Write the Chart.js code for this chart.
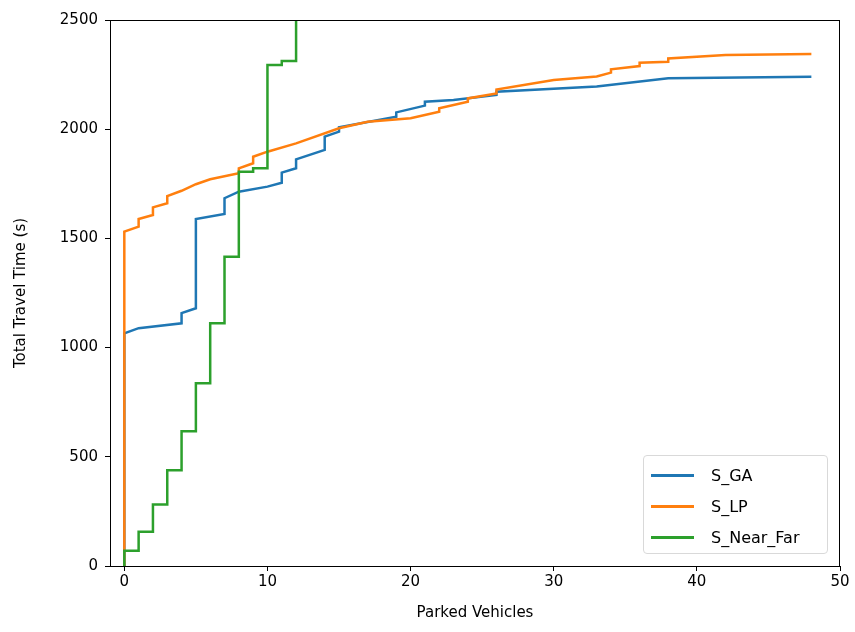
<!DOCTYPE html>
<html>
<head>
<meta charset="utf-8">
<script src="https://cdn.jsdelivr.net/npm/chart.js@4"></script>
<style>
  html, body { margin: 0; padding: 0; background: #fff; }
  #wrap { position: relative; width: 855px; height: 632px; }
  #legend {
    position: absolute; left: 643px; top: 455px; width: 185px; height: 99px;
    border: 1px solid #d9d9d9; border-radius: 4px; background: rgba(255,255,255,0.8);
    font-family: 'DejaVu Sans', sans-serif; font-size: 16px; color: #000;
    box-sizing: border-box; padding-top: 4px;
  }
  #legend .row { height: 31px; display: flex; align-items: center; }
  #legend .swatch { width: 43px; height: 3px; margin-left: 7px; margin-right: 17px; }
</style>
</head>
<body>
<div id="wrap">
  <canvas id="chart" width="855" height="632"></canvas>
  <div id="legend"></div>
</div>
<script>
// ejes
const xTicks = [0, 10, 20, 30, 40, 50];
const yTicks = [0, 500, 1000, 1500, 2000, 2500];

// S_GA
const gaX = [0, 0, 1, 4, 4, 5, 5, 7, 7, 8, 10, 11, 11, 12, 12, 14, 14, 15, 15, 19, 19, 21, 21, 23, 26, 26, 33, 38, 48];
const gaY = [0, 1065, 1089, 1111, 1158, 1180, 1589, 1612, 1684, 1714, 1737, 1755, 1801, 1821, 1862, 1905, 1966, 1989, 2009, 2057, 2077, 2108, 2126, 2134, 2157, 2172, 2195, 2233, 2240];

// S_LP
const lpX = [0, 0, 1, 1, 2, 2, 3, 3, 4, 5, 6, 8, 8, 9, 9, 10, 12, 15, 17, 20, 22, 22, 24, 24, 26, 26, 30, 33, 34, 34, 36, 36, 38, 38, 42, 48];
const lpY = [0, 1531, 1554, 1589, 1607, 1642, 1661, 1694, 1718, 1748, 1771, 1798, 1821, 1844, 1874, 1897, 1935, 2004, 2034, 2050, 2080, 2096, 2126, 2141, 2164, 2182, 2225, 2241, 2259, 2274, 2289, 2304, 2309, 2324, 2340, 2344];

// S_Near_Far
const nfX = [0, 0, 1, 1, 2, 2, 3, 3, 4, 4, 5, 5, 6, 6, 7, 7, 8, 8, 9, 9, 10, 10, 11, 11, 12, 12];
const nfY = [0, 70, 70, 157, 157, 282, 282, 438, 438, 617, 617, 837, 837, 1111, 1111, 1416, 1416, 1805, 1805, 1821, 1821, 2294, 2294, 2312, 2312, 3000];

const series = [
  { label: 'S_GA', xs: gaX, ys: gaY, color: '#1f77b4' },
  { label: 'S_LP', xs: lpX, ys: lpY, color: '#ff7f0e' },
  { label: 'S_Near_Far', xs: nfX, ys: nfY, color: '#2ca02c' }
];

const font = { family: "'DejaVu Sans', sans-serif", size: 15 };

// marco completo estilo matplotlib
const frame = {
  id: 'frame',
  afterDraw(chart) {
    const a = chart.chartArea, c = chart.ctx;
    c.save();
    c.strokeStyle = '#000';
    c.lineWidth = 1;
    c.strokeRect(a.left + 0.5, a.top + 0.5, a.right - a.left - 1, a.bottom - a.top);
    c.restore();
  }
};

new Chart(document.getElementById('chart').getContext('2d'), {
  type: 'scatter',
  data: {
    // la ultima serie queda encima, como en matplotlib
    datasets: series.map((s, i) => ({
      label: s.label,
      data: s.xs.map((x, j) => ({ x: x, y: s.ys[j] })),
      showLine: true,
      order: series.length - i,
      borderColor: s.color,
      backgroundColor: s.color,
      borderWidth: 2.5,
      pointRadius: 0,
      tension: 0
    }))
  },
  options: {
    responsive: false,
    animation: false,
    layout: { padding: { left: 8, right: 15, top: 20, bottom: 6 } },
    plugins: { legend: { display: false }, tooltip: { enabled: false } },
    scales: {
      x: {
        type: 'linear', min: -1, max: 50,
        afterBuildTicks: ax => { ax.ticks = xTicks.map(v => ({ value: v })); },
        afterFit: ax => { ax.height = 60; },
        grid: { drawOnChartArea: false, drawTicks: true, tickLength: 5, color: '#000' },
        border: { display: true, color: '#000' },
        ticks: { color: '#000', font: font, padding: 2, maxRotation: 0, callback: v => String(v) },
        title: { display: true, text: 'Parked Vehicles', color: '#000', font: font, padding: { top: 2 } }
      },
      y: {
        type: 'linear', min: 0, max: 2500,
        afterBuildTicks: ax => { ax.ticks = yTicks.map(v => ({ value: v })); },
        afterFit: ax => { ax.width = 102; },
        grid: { drawOnChartArea: false, drawTicks: true, tickLength: 5, color: '#000' },
        border: { display: true, color: '#000' },
        ticks: { color: '#000', font: font, padding: 7, callback: v => String(v) },
        title: { display: true, text: 'Total Travel Time (s)', color: '#000', font: font, padding: { bottom: 4 } }
      }
    }
  },
  plugins: [frame]
});

const legend = document.getElementById('legend');
series.forEach(s => {
  const row = document.createElement('div');
  row.className = 'row';
  row.innerHTML = '<span class="swatch" style="background:' + s.color + '"></span><span>' + s.label + '</span>';
  legend.appendChild(row);
});
</script>
</body>
</html>
